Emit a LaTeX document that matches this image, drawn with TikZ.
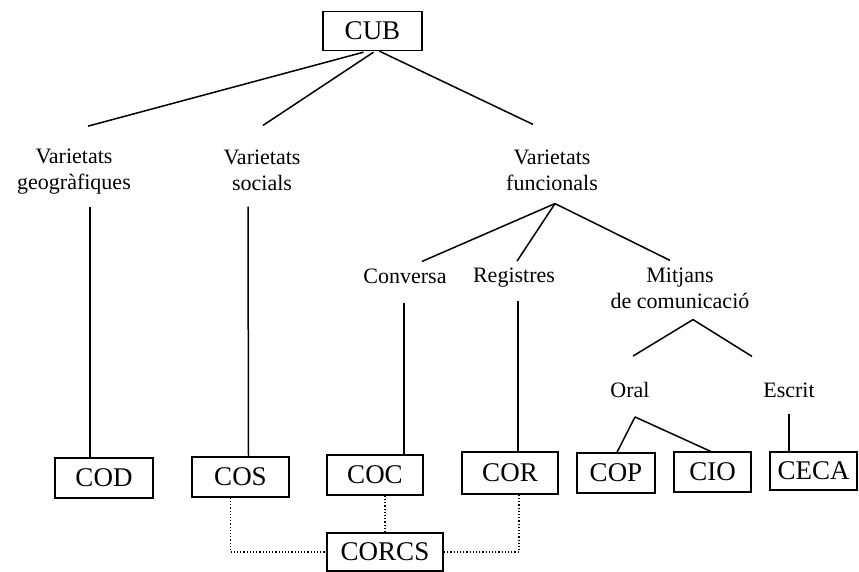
\documentclass[tikz,border=0pt]{standalone}
\usepackage{fontspec}
\setmainfont{Liberation Serif}
\usepackage{tikz}
\usetikzlibrary{positioning, calc}

\begin{document}
\begin{tikzpicture}[
    x=1pt, y=-1pt,
    corpus/.style={draw, line width=1.4pt, inner sep=0pt, minimum height=40pt, font=\fontsize{27}{32}\selectfont},
    variety/.style={align=center, inner sep=0pt, font=\fontsize{22}{26}\selectfont},
    branch/.style={line width=1.5pt},
    link/.style={dotted, line width=1.2pt}
]
\useasboundingbox (0,0) rectangle (859,571);

% corpora
\node[corpus, minimum width=99pt, minimum height=39pt] (cub) at (372.5,31) {CUB};
\node[corpus, minimum width=98pt] (cod) at (104,478) {COD};
\node[corpus, minimum width=97pt] (cos) at (240.5,477) {COS};
\node[corpus, minimum width=96pt] (coc) at (375,475) {COC};
\node[corpus, minimum width=96pt, minimum height=42pt] (cor) at (510,473) {COR};
\node[corpus, minimum width=78pt] (cop) at (616,473) {COP};
\node[corpus, minimum width=77pt] (cio) at (712.5,472) {CIO};
\node[corpus, minimum width=87pt, minimum height=38pt] (ceca) at (813.5,471) {CECA};
\node[corpus, minimum width=116pt, minimum height=38pt] (corcs) at (385,552) {CORCS};

% varieties
\node[variety] (geo) at (74,172) {Varietats\\geogràfiques};
\node[variety] (soc) at (262,170) {Varietats\\socials};
\node[variety] (func) at (552,170) {Varietats\\funcionals};
\node[variety] (conv) at (405,276) {Conversa};
\node[variety] (reg) at (514,278) {Registres};
\node[variety] (mit) at (680,288) {Mitjans\\de comunicació};
\node[variety] (oral) at (630,390) {Oral};
\node[variety] (escrit) at (789,390) {Escrit};

\draw[branch] ($(cub.south)+(-9,1)$) -- ($(geo.north)+(14,-23)$);
\draw[branch] ($(cub.south)+(1,1)$) -- ($(soc.north)+(1,-24)$);
\draw[branch] ($(cub.south)+(7,0)$) -- ($(func.north)+(-19,-25)$);

\draw[branch] ($(geo.south)+(16,12)$) -- ($(cod.north)+(-14,0)$);
\draw[branch] ($(soc.south)+(-14,16)$) -- ($(cos.north)+(8,0)$);

\draw[branch] ($(func.south)+(3,13)$) -- ($(conv.north)+(17,-7)$);
\draw[branch] ($(func.south)+(3,13)$) -- ($(reg.north)+(3,-7)$);
\draw[branch] ($(func.south)+(3,13)$) -- ($(mit.north)+(-10,-7)$);

\draw[branch] ($(conv.south)+(-1,19)$) -- ($(coc.north)+(29,0)$);
\draw[branch] ($(reg.south)+(4,13)$) -- ($(cor.north)+(8,0)$);

\draw[branch] ($(mit.south)+(13,11)$) -- ($(oral.north)+(3,-26)$);
\draw[branch] ($(mit.south)+(13,11)$) -- ($(escrit.north)+(-37,-26)$);

\draw[branch] ($(oral.south)+(5,19)$) -- ($(cop.north)+(1,0)$);
\draw[branch] ($(oral.south)+(5,19)$) -- ($(cio.north)+(-2,0)$);
\draw[branch] ($(escrit.south)+(0,16)$) -- ($(ceca.north)+(-24.5,0)$);

% links to CORCS
\draw[link] ($(cos.south)+(-10,0)$) |- (corcs.west);
\draw[link] ($(coc.south)+(10,0)$) -- (corcs.north);
\draw[link] ($(cor.south)+(9,0)$) |- (corcs.east);
\end{tikzpicture}
\end{document}
